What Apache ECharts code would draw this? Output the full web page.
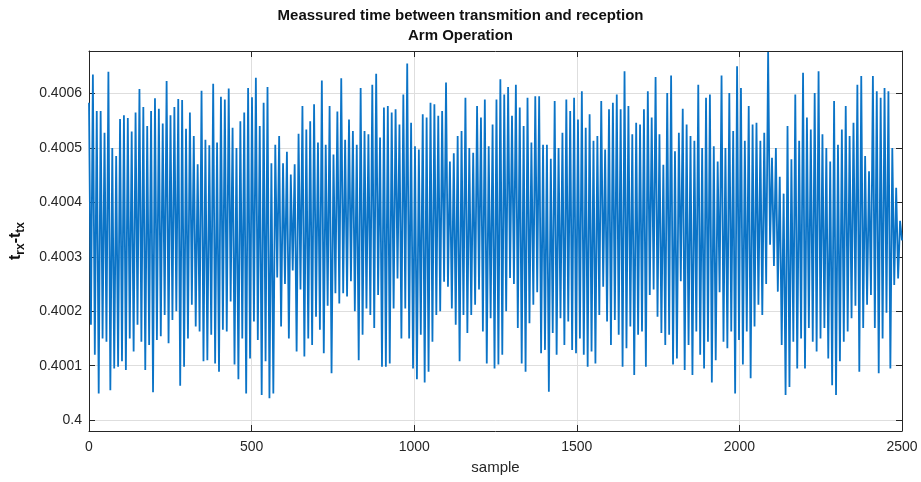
<!DOCTYPE html>
<html><head><meta charset="utf-8">
<script src="https://cdn.jsdelivr.net/npm/echarts@6/dist/echarts.min.js"></script>
<style>html,body{margin:0;padding:0;background:#fff}#c{width:921px;height:482px}</style>
</head><body><div id="c"></div>
<script>
const titleLines = ['Meassured time between transmition and reception', 'Arm Operation'];
const xAxisName = 'sample';
const xTicks = [0, 500, 1000, 1500, 2000, 2500];
const yTicks = [0.4, 0.4001, 0.4002, 0.4003, 0.4004, 0.4005, 0.4006];
const sampleCount = 2500;

const seg1 = [0.400583,0.400175,0.400635,0.400120,0.400568,0.400049,0.400568,0.400150,0.400528,0.400144,0.400640,0.400055,0.400500,0.400095,0.400485,0.400098,0.400553,0.400108,0.400560,0.400092,0.400555,0.400150,0.400530,0.400126,0.400565,0.400175,0.400608,0.400144,0.400575,0.400092,0.400540,0.400138,0.400568,0.400051,0.400591,0.400147,0.400572,0.400154,0.400545,0.400193,0.400623,0.400141,0.400560,0.400184,0.400575,0.400200,0.400590,0.400063,0.400588,0.400098,0.400535,0.400150,0.400565,0.400212,0.400522,0.400172,0.400470,0.400163,0.400605,0.400108,0.400515,0.400110,0.400505,0.400157,0.400618,0.400104,0.400510,0.400089,0.400594,0.400166];
// samples ~415..830
const seg2 = [0.400589,0.400163,0.400609,0.400218,0.400537,0.400102,0.400500,0.400075,0.400549,0.400150,0.400565,0.400049,0.400610,0.400113,0.400593,0.400181,0.400629,0.400147,0.400540,0.400046,0.400583,0.400108,0.400612,0.400040,0.400472,0.400049,0.400506,0.400262,0.400522,0.400172,0.400472,0.400250,0.400493,0.400150,0.400451,0.400275,0.400470,0.400126,0.400526,0.400240,0.400577,0.400117,0.400534,0.400150,0.400549,0.400138,0.400580,0.400190,0.400510,0.400166,0.400624,0.400123,0.400506,0.400210,0.400577,0.400086,0.400488,0.400233,0.400567,0.400214,0.400628,0.400233,0.400515,0.400227,0.400552,0.400255,0.400531,0.400200,0.400506,0.400110];
// samples ~835..1250
const seg3 = [0.400610,0.400157,0.400531,0.400205,0.400525,0.400193,0.400616,0.400169,0.400636,0.400230,0.400519,0.400098,0.400574,0.400098,0.400577,0.400104,0.400565,0.400205,0.400571,0.400260,0.400543,0.400150,0.400598,0.400205,0.400655,0.400150,0.400546,0.400095,0.400503,0.400075,0.400497,0.400157,0.400562,0.400069,0.400556,0.400089,0.400583,0.400144,0.400580,0.400193,0.400559,0.400200,0.400568,0.400254,0.400620,0.400245,0.400475,0.400205,0.400490,0.400175,0.400522,0.400108,0.400531,0.400193,0.400592,0.400160,0.400500,0.400193,0.400491,0.400212,0.400577,0.400240,0.400556,0.400163,0.400589,0.400104,0.400503,0.400187,0.400543,0.400095];
// samples ~1255..1665
const seg4 = [0.400589,0.400102,0.400626,0.400120,0.400598,0.400200,0.400612,0.400261,0.400559,0.400250,0.400616,0.400169,0.400574,0.400104,0.400540,0.400089,0.400592,0.400178,0.400510,0.400212,0.400595,0.400235,0.400595,0.400123,0.400506,0.400129,0.400506,0.400052,0.400480,0.400160,0.400586,0.400120,0.400500,0.400187,0.400528,0.400138,0.400589,0.400181,0.400568,0.400129,0.400592,0.400123,0.400552,0.400150,0.400604,0.400120,0.400537,0.400098,0.400562,0.400126,0.400513,0.400104,0.400522,0.400193,0.400586,0.400245,0.400497,0.400181,0.400571,0.400138,0.400583,0.400184,0.400598,0.400157,0.400571,0.400098,0.400641,0.400132,0.400577,0.400172];
// samples ~1670..2085
const seg5 = [0.400525,0.400083,0.400546,0.400157,0.400543,0.400163,0.400571,0.400098,0.400604,0.400230,0.400556,0.400240,0.400630,0.400190,0.400525,0.400160,0.400469,0.400138,0.400601,0.400157,0.400633,0.400102,0.400494,0.400113,0.400528,0.400255,0.400572,0.400092,0.400543,0.400138,0.400522,0.400083,0.400513,0.400163,0.400616,0.400120,0.400500,0.400095,0.400592,0.400144,0.400598,0.400069,0.400503,0.400110,0.400475,0.400235,0.400633,0.400144,0.400500,0.400132,0.400601,0.400163,0.400531,0.400049,0.400650,0.400147,0.400610,0.400102,0.400513,0.400163,0.400577,0.400077,0.400543,0.400172,0.400546,0.400212,0.400513,0.400193,0.400528,0.400250];
// samples ~2090..2500
const seg6 = [0.400676,0.400322,0.400482,0.400283,0.400500,0.400236,0.400447,0.400138,0.400416,0.400046,0.400540,0.400061,0.400479,0.400144,0.400598,0.400095,0.400513,0.400150,0.400638,0.400095,0.400556,0.400169,0.400534,0.400144,0.400601,0.400126,0.400641,0.400150,0.400525,0.400169,0.400500,0.400113,0.400475,0.400064,0.400586,0.400046,0.400506,0.400108,0.400534,0.400144,0.400577,0.400163,0.400522,0.400187,0.400546,0.400210,0.400616,0.400089,0.400632,0.400169,0.400485,0.400212,0.400457,0.400230,0.400632,0.400169,0.400604,0.400086,0.400592,0.400150,0.400610,0.400197,0.400604,0.400095,0.400500,0.400248,0.400427,0.400260,0.400366,0.400330];

const values = [].concat(seg1, seg2, seg3, seg4, seg5, seg6);
const data = values.map((v, i) => [i * sampleCount / (values.length - 1), v]);

const chart = echarts.init(document.getElementById('c'), null, {renderer: 'canvas'});
const axisColor = '#262626';
const gridColor = '#dedede';
const fontFam = '"Liberation Sans", Arial, Helvetica, sans-serif';
const yFmt = v => String(+(+v).toFixed(4));
const xFmt = v => String(v);

const xBase = {
  type: 'value', min: 0, max: 2500, interval: 500,
  axisLine: {show: true, onZero: false, lineStyle: {color: axisColor, width: 1}},
  axisTick: {show: true, inside: true, length: 6, lineStyle: {color: axisColor}},
  splitLine: {show: false}
};
const yBase = {
  type: 'value', min: 0.39998, max: 0.400678, scale: true,
  axisLine: {show: true, onZero: false, lineStyle: {color: axisColor, width: 1}},
  axisTick: {show: true, inside: true, length: 6, customValues: yTicks, lineStyle: {color: axisColor}},
  splitLine: {show: false}
};

chart.setOption({
  animation: false,
  backgroundColor: '#ffffff',
  title: {
    text: titleLines.join('\n'),
    left: 'center', top: 6,
    padding: [0, 0, 0, 68],
    textStyle: {fontFamily: fontFam, fontSize: 15, fontWeight: 'bold', color: '#111', lineHeight: 20}
  },
  grid: {left: 87, right: 19, top: 51, bottom: 51, show: false},
  xAxis: [
    Object.assign({}, xBase, {
      position: 'bottom',
      name: xAxisName, nameLocation: 'middle', nameGap: 29,
      nameTextStyle: {fontFamily: fontFam, fontSize: 15, color: '#262626'},
      axisLabel: {show: true, margin: 9, formatter: xFmt, fontFamily: fontFam, fontSize: 14, color: '#262626'},
      splitLine: {show: true, lineStyle: {color: gridColor, width: 1}}
    }),
    Object.assign({}, xBase, {position: 'top', axisLabel: {show: false}})
  ],
  yAxis: [
    Object.assign({}, yBase, {
      position: 'left',
      name: '{t|t}{s|rx}{t|-t}{s|tx}', nameLocation: 'middle', nameGap: 62, nameRotate: 90,
      nameTextStyle: {
        fontFamily: fontFam, color: '#111',
        rich: {
          t: {fontFamily: fontFam, fontSize: 16, fontWeight: 'bold', lineHeight: 22, color: '#111'},
          s: {fontFamily: fontFam, fontSize: 12, fontWeight: 'bold', lineHeight: 12, verticalAlign: 'bottom', color: '#111'}
        }
      },
      axisLabel: {show: true, margin: 7, customValues: yTicks, formatter: yFmt, fontFamily: fontFam, fontSize: 14, color: '#262626'},
      splitLine: {show: true, lineStyle: {color: gridColor, width: 1}}
    }),
    Object.assign({}, yBase, {position: 'right', axisLabel: {show: false}})
  ],
  series: [{
    type: 'line',
    data: data,
    xAxisIndex: 0, yAxisIndex: 0,
    showSymbol: false, symbol: 'none',
    sampling: 'none',
    lineStyle: {color: '#0b74c7', width: 1.8},
    silent: true
  }]
});
</script>
</body></html>
